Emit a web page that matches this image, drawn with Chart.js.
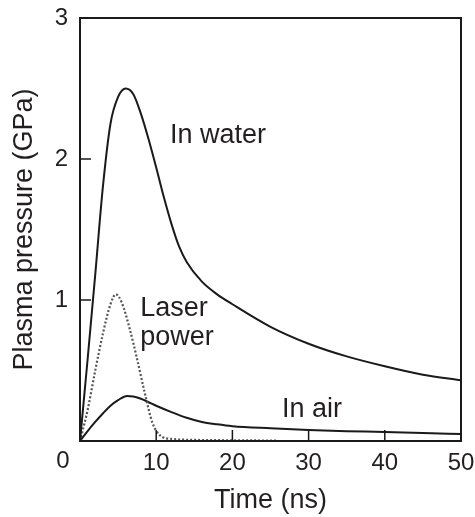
<!DOCTYPE html>
<html>
<head>
<meta charset="utf-8">
<script src="https://cdn.jsdelivr.net/npm/chart.js@4.4.1/dist/chart.umd.min.js"></script>
<style>
  html, body { margin: 0; padding: 0; background: #fff; }
  #wrap { width: 475px; height: 517px; }
</style>
</head>
<body>
<div id="wrap"><canvas id="pressureChart" width="475" height="517"></canvas></div>
<script>
// Time (ns) and plasma pressure (GPa)
const waterTime = [0, 1, 2, 3, 4, 5, 6, 7, 8, 9, 10, 11, 12, 13, 14, 16, 18, 20, 25, 30, 35, 40, 45, 50];
const waterPressure = [0, 0.58, 1.18, 1.8, 2.25, 2.44, 2.5, 2.46, 2.32, 2.14, 1.94, 1.73, 1.54, 1.38, 1.27, 1.13, 1.04, 0.97, 0.81, 0.69, 0.6, 0.53, 0.47, 0.43];

const laserTime = [0, 1, 2, 3, 4, 4.7, 5.5, 6.5, 7.5, 8.5, 9.5, 10.5, 12, 15, 20, 26];
const laserPower = [0, 0.22, 0.5, 0.76, 0.97, 1.04, 0.98, 0.8, 0.58, 0.34, 0.13, 0.04, 0.015, 0.008, 0.005, 0.003];

const airTime = [0, 1, 2, 3, 4, 5, 6.2, 7, 8, 9, 10, 12, 14, 16, 18, 20, 25, 30, 35, 40, 45, 50];
const airPressure = [0, 0.07, 0.135, 0.195, 0.25, 0.29, 0.32, 0.315, 0.3, 0.275, 0.25, 0.205, 0.165, 0.135, 0.118, 0.105, 0.09, 0.078, 0.07, 0.064, 0.056, 0.05];

const xTicks = [0, 10, 20, 30, 40, 50];
const yTicks = [0, 1, 2, 3];

// curve labels, anchored in data units (left edge, baseline)
const curveLabels = [
    { text: 'In water', t: 11.8, p: 2.11 },
    { text: 'Laser', t: 7.9, p: 0.89 },
    { text: 'power', t: 7.9, p: 0.68 },
    { text: 'In air', t: 26.5, p: 0.17 },
];

const FONT = '"Liberation Sans", Arial, Helvetica, sans-serif';
const INK = '#231f20';

const toPoints = (xs, ys) => xs.map((x, i) => ({ x: x, y: ys[i] }));

// keep tick labels from pushing the plot area around
const noOverflow = s => {
    s.paddingTop = 0;
    s.paddingBottom = 0;
    s.paddingLeft = 0;
    s.paddingRight = 0;
};

const frameAndTicks = {
    id: 'frameAndTicks',
    afterDraw(chart) {
        const { ctx, chartArea: a, scales: { x, y } } = chart;
        ctx.save();
        ctx.strokeStyle = '#1a1a1a';
        ctx.lineWidth = 2;
        ctx.strokeRect(a.left, a.top, a.right - a.left, a.bottom - a.top);

        // inward tick marks
        ctx.lineWidth = 1.5;
        ctx.beginPath();
        xTicks.slice(1, -1).forEach(v => {
            const px = x.getPixelForValue(v);
            ctx.moveTo(px, a.bottom);
            ctx.lineTo(px, a.bottom - 11);
        });
        yTicks.slice(1, -1).forEach(v => {
            const py = y.getPixelForValue(v);
            ctx.moveTo(a.left, py);
            ctx.lineTo(a.left + 11, py);
        });
        ctx.stroke();

        // shared origin label
        ctx.fillStyle = INK;
        ctx.font = '24px ' + FONT;
        ctx.textAlign = 'center';
        ctx.textBaseline = 'middle';
        ctx.fillText('0', x.getPixelForValue(0) - 17, a.bottom + 20);

        // curve labels
        ctx.font = '27px ' + FONT;
        ctx.textAlign = 'left';
        ctx.textBaseline = 'alphabetic';
        curveLabels.forEach(l => {
            ctx.fillText(l.text, x.getPixelForValue(l.t), y.getPixelForValue(l.p));
        });
        ctx.restore();
    }
};

const ctx = document.getElementById('pressureChart').getContext('2d');

new Chart(ctx, {
    type: 'line',
    data: {
        datasets: [
            {
                label: 'In water',
                data: toPoints(waterTime, waterPressure),
                borderColor: '#1a1a1a',
                borderWidth: 2,
            },
            {
                label: 'Laser power',
                data: toPoints(laserTime, laserPower),
                borderColor: '#555555',
                borderWidth: 2.2,
                borderDash: [2, 2],
            },
            {
                label: 'In air',
                data: toPoints(airTime, airPressure),
                borderColor: '#1a1a1a',
                borderWidth: 2,
            },
        ],
    },
    options: {
        responsive: false,
        animation: false,
        elements: {
            point: { radius: 0 },
            line: { cubicInterpolationMode: 'monotone', fill: false },
        },
        layout: { padding: { left: 0, top: 18, right: 14, bottom: 0 } },
        plugins: {
            legend: { display: false },
            tooltip: { enabled: false },
        },
        scales: {
            x: {
                type: 'linear',
                min: 0,
                max: 50,
                afterFit: s => { s.height = 76; noOverflow(s); },
                afterBuildTicks: s => { s.ticks = xTicks.map(v => ({ value: v })); },
                grid: { display: false, drawTicks: false },
                border: { display: false },
                ticks: {
                    color: INK,
                    font: { family: FONT, size: 24 },
                    padding: 8,
                    maxRotation: 0,
                    callback: v => (v === 0 ? '' : v),
                },
                title: {
                    display: true,
                    text: 'Time (ns)',
                    color: INK,
                    font: { family: FONT, size: 27 },
                    padding: { top: 0, bottom: 0 },
                },
            },
            y: {
                min: 0,
                max: 3,
                afterFit: s => { s.width = 80; noOverflow(s); },
                afterBuildTicks: s => { s.ticks = yTicks.map(v => ({ value: v })); },
                grid: { display: false, drawTicks: false },
                border: { display: false },
                ticks: {
                    color: INK,
                    font: { family: FONT, size: 24 },
                    padding: 12,
                    callback: v => (v === 0 ? '' : v),
                },
                title: {
                    display: true,
                    text: 'Plasma pressure (GPa)',
                    color: INK,
                    font: { family: FONT, size: 27 },
                    padding: { top: 8, bottom: 0 },
                },
            },
        },
    },
    plugins: [frameAndTicks],
});
</script>
</body>
</html>
